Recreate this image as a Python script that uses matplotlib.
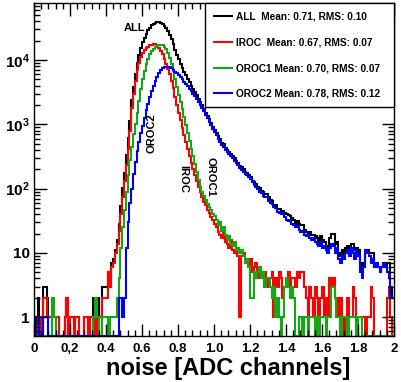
"""Noise distribution per readout chamber type, ROOT-like log histogram"""
import matplotlib
matplotlib.use('Agg')
import matplotlib.pyplot as plt
import numpy as np
from matplotlib.ticker import FixedLocator, NullFormatter

plt.rcParams['font.family'] = ['Liberation Sans', 'DejaVu Sans']
plt.rcParams['font.weight'] = 'bold'
plt.rcParams['mathtext.fontset'] = 'custom'
plt.rcParams['mathtext.bf'] = 'Liberation Sans:bold'
plt.rcParams['mathtext.rm'] = 'Liberation Sans:bold'
plt.rcParams['mathtext.default'] = 'bf'

# histogram range: 200 bins of 0.01 ADC channels from 0 to 2
x_lo, x_hi, n_bins = 0.0, 2.0, 200

iroc = [
    0, 0, 1, 1, 0, 2, 2, 1, 1, 1,
    0, 0, 1, 1, 0, 0, 0, 1, 2, 0,
    1, 1, 0, 1, 1, 0, 0, 0, 1, 1,
    0, 1, 1, 1, 0, 1, 1, 1, 2, 2,
    2, 5, 3, 6, 7, 10, 14, 22, 40, 75,
    130, 230, 420, 800, 1800, 3000, 4800, 7000, 9000, 11000,
    12800, 14200, 15300, 16200, 16900, 17400, 17700, 17500, 16800, 15600,
    14000, 12300, 10500, 8800, 7300, 6000, 4800, 3700, 2700, 2000,
    1500, 1150, 880, 680, 530, 410, 320, 250, 200, 160,
    130, 105, 88, 75, 62, 55, 47, 42, 36, 32,
    28, 25, 21, 19, 17, 22, 15, 14, 12, 16,
    11, 10, 12, 9, 1, 9, 10, 7, 8, 6,
    8, 5, 6, 7, 4, 6, 5, 4, 5, 3,
    4, 4, 5, 1, 4, 3, 5, 4, 2, 3,
    4, 5, 3, 4, 4, 3, 5, 4, 5, 5,
    3, 2, 1, 3, 2, 1, 3, 2, 1, 2,
    3, 1, 2, 1, 4, 3, 4, 2, 2, 1,
    2, 1, 0, 1, 2, 1, 1, 3, 2, 1,
    1, 1, 1, 1, 0, 1, 1, 3, 2, 0,
    0, 0, 0, 0, 0, 0, 2, 3, 1, 0,
]

oroc1 = [
    0, 0, 0, 0, 0, 0, 0, 0, 0, 0,
    2, 1, 0, 0, 0, 0, 0, 0, 0, 0,
    0, 0, 0, 0, 0, 0, 0, 0, 0, 0,
    0, 0, 0, 1, 2, 1, 0, 0, 1, 1,
    1, 0, 1, 1, 1, 1, 2, 4, 12, 25,
    46, 90, 160, 280, 450, 700, 1000, 1500, 2300, 3500,
    5000, 6800, 8800, 10500, 12200, 13800, 15000, 16000, 16800, 17200,
    17300, 16900, 16000, 14800, 12800, 10800, 8800, 6800, 5000, 3800,
    2900, 2200, 1700, 1300, 980, 740, 560, 420, 320, 240,
    180, 135, 105, 88, 76, 66, 58, 52, 46, 41,
    37, 33, 27, 30, 22, 25, 19, 16, 18, 14,
    13, 15, 11, 12, 10, 11, 9, 7, 8, 6,
    2, 2, 5, 4, 5, 6, 4, 5, 3, 4,
    4, 3, 2, 3, 1, 2, 1, 0, 1, 3,
    4, 3, 2, 3, 2, 0, 0, 1, 1, 0,
    1, 1, 0, 1, 1, 1, 0, 1, 0, 1,
    1, 1, 0, 1, 1, 3, 3, 2, 1, 1,
    0, 1, 1, 1, 0, 1, 1, 1, 1, 0,
    1, 1, 0, 0, 0, 0, 0, 0, 0, 0,
    0, 0, 0, 0, 0, 0, 0, 0, 0, 0,
]

oroc2 = [
    0, 1, 1, 0, 0, 1, 1, 1, 0, 0,
    0, 0, 0, 0, 0, 0, 0, 0, 0, 0,
    0, 0, 0, 0, 0, 0, 0, 0, 0, 0,
    0, 0, 0, 0, 0, 0, 0, 0, 0, 0,
    0, 0, 0, 0, 0, 0, 0, 2, 2, 1,
    2, 12, 30, 60, 100, 170, 260, 380, 530, 720,
    950, 1250, 1650, 2100, 2650, 3300, 4000, 4800, 5500, 6200,
    6900, 7400, 7800, 7900, 7900, 7700, 7400, 7000, 6600, 6200,
    5800, 5400, 5000, 4600, 4250, 3900, 3600, 3300, 3000, 2750,
    2500, 2250, 2000, 1800, 1600, 1400, 1250, 1100, 960, 850,
    750, 670, 600, 540, 480, 440, 400, 370, 340, 320,
    300, 270, 250, 230, 210, 195, 180, 170, 160, 150,
    140, 125, 115, 105, 98, 90, 84, 78, 73, 75,
    65, 60, 57, 52, 50, 44, 42, 40, 42, 36,
    33, 31, 32, 28, 27, 25, 26, 23, 21, 22,
    19, 18, 20, 17, 16, 17, 15, 14, 13, 15,
    12, 13, 11, 10, 12, 14, 13, 10, 12, 8,
    7, 9, 8, 10, 11, 9, 12, 10, 8, 11,
    9, 5, 4, 6, 11, 10, 9, 7, 8, 6,
    7, 6, 5, 6, 7, 6, 5, 4, 2, 2,
]

labels = ['ALL  Mean: 0.71, RMS: 0.10',
          'IROC  Mean: 0.67, RMS: 0.07',
          'OROC1 Mean: 0.70, RMS: 0.07',
          'OROC2 Mean: 0.78, RMS: 0.12']
colors = ['black', '#ff0000', '#14a814', '#0000ff']

x_major = [0, 0.2, 0.4, 0.6, 0.8, 1.0, 1.2, 1.4, 1.6, 1.8, 2.0]
x_ticklabels = ['0', '0,2', '0.4', '0.6', '0.8', '1.0', '1.2', '1.4', '1.6', '1.8', '2']
y_major = [1, 10, 100, 1000, 10000]
y_ticklabels = ['1', '10', r'$10^{2}$', r'$10^{3}$', r'$10^{4}$']
y_min, y_max = 0.51, 7.7e4

all_ch = np.array(iroc) + np.array(oroc1) + np.array(oroc2)
series = [all_ch, np.array(iroc), np.array(oroc1), np.array(oroc2)]
edges = np.linspace(x_lo, x_hi, n_bins + 1)

fig = plt.figure(figsize=(4.02, 3.82), dpi=100)
ax = fig.add_axes([0.0846, 0.1204, 0.8955, 0.8717])
ax.set_yscale('log')

for vals, col, lab in zip(series, colors, labels):
    # empty bins are drawn on the axis floor, as ROOT does
    v = np.where(vals > 0, vals, y_min).astype(float)
    ax.stairs(v, edges, color=col, lw=1.5, label=lab, baseline=None, clip_on=False)

ax.set_xlim(x_lo, x_hi)
ax.set_ylim(y_min, y_max)

ax.xaxis.set_major_locator(FixedLocator(x_major))
ax.xaxis.set_minor_locator(FixedLocator(np.arange(0, 2.001, 0.04)))
ax.set_xticklabels(x_ticklabels)
ax.yaxis.set_major_locator(FixedLocator(y_major))
minors = [m * 10 ** k for k in range(-1, 5) for m in range(2, 10)]
ax.yaxis.set_minor_locator(FixedLocator([m for m in minors if y_min < m < y_max]))
ax.yaxis.set_minor_formatter(NullFormatter())
ax.set_yticklabels(y_ticklabels)

ax.tick_params(which='both', direction='in', top=True, right=True, width=1)
ax.tick_params(which='major', length=9)
ax.tick_params(which='minor', length=4.5)
ax.tick_params(axis='x', pad=5, labelsize=9.5)
ax.tick_params(axis='y', pad=3, labelsize=11)
for sp in ax.spines.values():
    sp.set_linewidth(1)

ax.set_xlabel('noise [ADC channels]', fontsize=17, fontweight='bold', labelpad=4)
ax.xaxis.set_label_coords(0.54, -0.062)

ax.text(0.556, 3.2e4, 'ALL', fontsize=8, fontweight='bold', ha='center', va='center')
ax.text(0.65, 730, 'OROC2', fontsize=8, fontweight='bold', ha='center', va='center', rotation=90)
ax.text(0.828, 141, 'IROC', fontsize=8, fontweight='bold', ha='center', va='center', rotation=-90)
ax.text(0.978, 150, 'OROC1', fontsize=8, fontweight='bold', ha='center', va='center', rotation=-90)

leg = ax.legend(loc='upper left', bbox_to_anchor=(0.475, 0.685, 0.525, 0.315), mode='expand',
                borderaxespad=0, fancybox=False, framealpha=1, edgecolor='black',
                handlelength=1.8, handletextpad=0.45, labelspacing=1.55,
                borderpad=0.85, prop={'weight': 'bold', 'size': 7.3})
leg.get_frame().set_linewidth(1)

fig.savefig('out.png', dpi=100)
plt.close(fig)
